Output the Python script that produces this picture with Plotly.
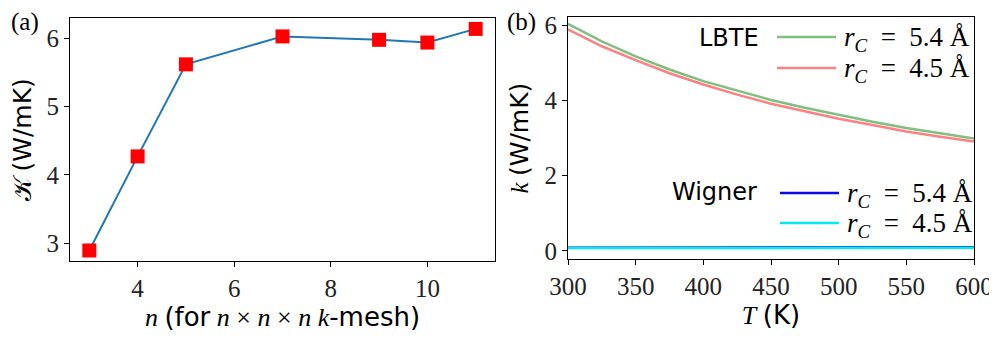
import plotly.graph_objects as go

# panel (a): convergence with k-mesh
n_mesh = [3, 4, 5, 7, 9, 10, 11]
kappa_mesh = [2.89, 4.27, 5.62, 6.03, 5.98, 5.94, 6.14]

# panel (b): k vs temperature
temps = [300, 325, 350, 375, 400, 425, 450, 475, 500, 525, 550, 575, 600]
lbte_54 = [6.05, 5.58, 5.18, 4.83, 4.52, 4.26, 4.02, 3.81, 3.62, 3.44, 3.27, 3.13, 2.99]
lbte_45 = [5.90, 5.45, 5.08, 4.73, 4.43, 4.16, 3.92, 3.71, 3.52, 3.35, 3.18, 3.04, 2.91]
wig_54 = [0.08, 0.08, 0.08, 0.08, 0.08, 0.08, 0.08, 0.09, 0.09, 0.09, 0.09, 0.09, 0.09]
wig_45 = [0.07, 0.07, 0.07, 0.07, 0.07, 0.07, 0.08, 0.08, 0.08, 0.08, 0.08, 0.08, 0.08]

SERIF = "Liberation Serif"
SANS = "DejaVu Sans"
W, H = 997, 344
OFF = 8  # page body margin shifts the figure by this much


def px(x):
    return (x - OFF) / W


def py(y):
    return 1 - (y - OFF) / H


def sans(s):
    return f"<span style='font-family:{SANS}'>{s}</span>"


def rc(val):
    return f"<i>r</i><sub><i>C</i></sub>\u2002=\u2002{val} Å"


GREEN, RED, BLUE, CYAN = "#7fbf7f", "#ff8080", "#0a0ae6", "#00ecf0"

fig = go.Figure()

fig.add_trace(go.Scatter(x=n_mesh, y=kappa_mesh, mode="lines+markers",
                         line=dict(color="#1f77b4", width=2),
                         marker=dict(symbol="square", size=14, color="red"),
                         showlegend=False, xaxis="x", yaxis="y"))

for ys, col in [(lbte_54, GREEN), (lbte_45, RED), (wig_54, BLUE), (wig_45, CYAN)]:
    fig.add_trace(go.Scatter(x=temps, y=ys, mode="lines", line=dict(color=col, width=2.5),
                             showlegend=False, xaxis="x2", yaxis="y2"))

axis_common = dict(showline=True, linecolor="black", linewidth=1.2, mirror=True,
                   ticks="outside", ticklen=5, tickcolor="black", showgrid=False,
                   zeroline=False, automargin=False,
                   tickfont=dict(family=SERIF, size=25, color="#222"))

annotations = [
    dict(text="(a)", x=px(9), y=py(6), xanchor="left", yanchor="top",
         font=dict(family=SERIF, size=25)),
    dict(text="(b)", x=px(505), y=py(6), xanchor="left", yanchor="top",
         font=dict(family=SERIF, size=25)),
    dict(text="LBTE", x=px(761), y=py(38), xanchor="right", yanchor="middle",
         font=dict(family=SANS, size=24)),
    dict(text="Wigner", x=px(759), y=py(192), xanchor="right", yanchor="middle",
         font=dict(family=SANS, size=24)),
]
shapes = []
# legend keys: (colour, y of row, label)
legend_rows = [(GREEN, 37, "5.4"), (RED, 68, "4.5"), (BLUE, 193, "5.4"), (CYAN, 223, "4.5")]
for col, yy, val in legend_rows:
    x0 = 777 if col in (GREEN, RED) else 780
    shapes.append(dict(type="line", xref="paper", yref="paper", x0=px(x0), x1=px(x0 + 59),
                       y0=py(yy), y1=py(yy), line=dict(color=col, width=2.5)))
    annotations.append(dict(text=rc(val), x=px(x0 + 65), y=py(yy + 2), xanchor="left", yanchor="middle",
                            font=dict(family=SERIF, size=27)))
for a in annotations:
    a.update(xref="paper", yref="paper", showarrow=False)

fig.update_layout(
    width=W, height=H,
    margin=dict(l=0, r=0, t=0, b=0, autoexpand=False),
    plot_bgcolor="white", paper_bgcolor="white",
    font=dict(family=SERIF, color="black"),
    showlegend=False,
    xaxis=dict(domain=[px(70), px(495)], range=[2.6, 11.4], tickvals=[4, 6, 8, 10],
               title=dict(text="<i>n</i> " + sans("(for") + " <i>n</i> × <i>n</i> × <i>n</i> <i>k</i>" + sans("-mesh)"),
                          font=dict(size=26, family=SERIF), standoff=0),
               anchor="y", **axis_common),
    yaxis=dict(domain=[py(261), py(18)], range=[2.736, 6.30], tickvals=[3, 4, 5, 6],
               title=dict(text="𝒦 " + sans("(W/mK)"), font=dict(size=25, family=SERIF), standoff=8),
               anchor="x", **axis_common),
    xaxis2=dict(domain=[px(568), px(974)], range=[300, 600], tickvals=[300, 350, 400, 450, 500, 550, 600],
                title=dict(text="<i>T</i> " + sans("(K)"), font=dict(size=26, family=SERIF), standoff=0),
                anchor="y2", **axis_common),
    yaxis2=dict(domain=[py(259), py(17)], range=[-0.22, 6.23], tickvals=[0, 2, 4, 6],
                title=dict(text="<i>k</i> " + sans("(W/mK)"), font=dict(size=25, family=SERIF), standoff=8),
                anchor="x2", **axis_common),
    annotations=annotations,
    shapes=shapes,
)

fig.write_html("out.html")
